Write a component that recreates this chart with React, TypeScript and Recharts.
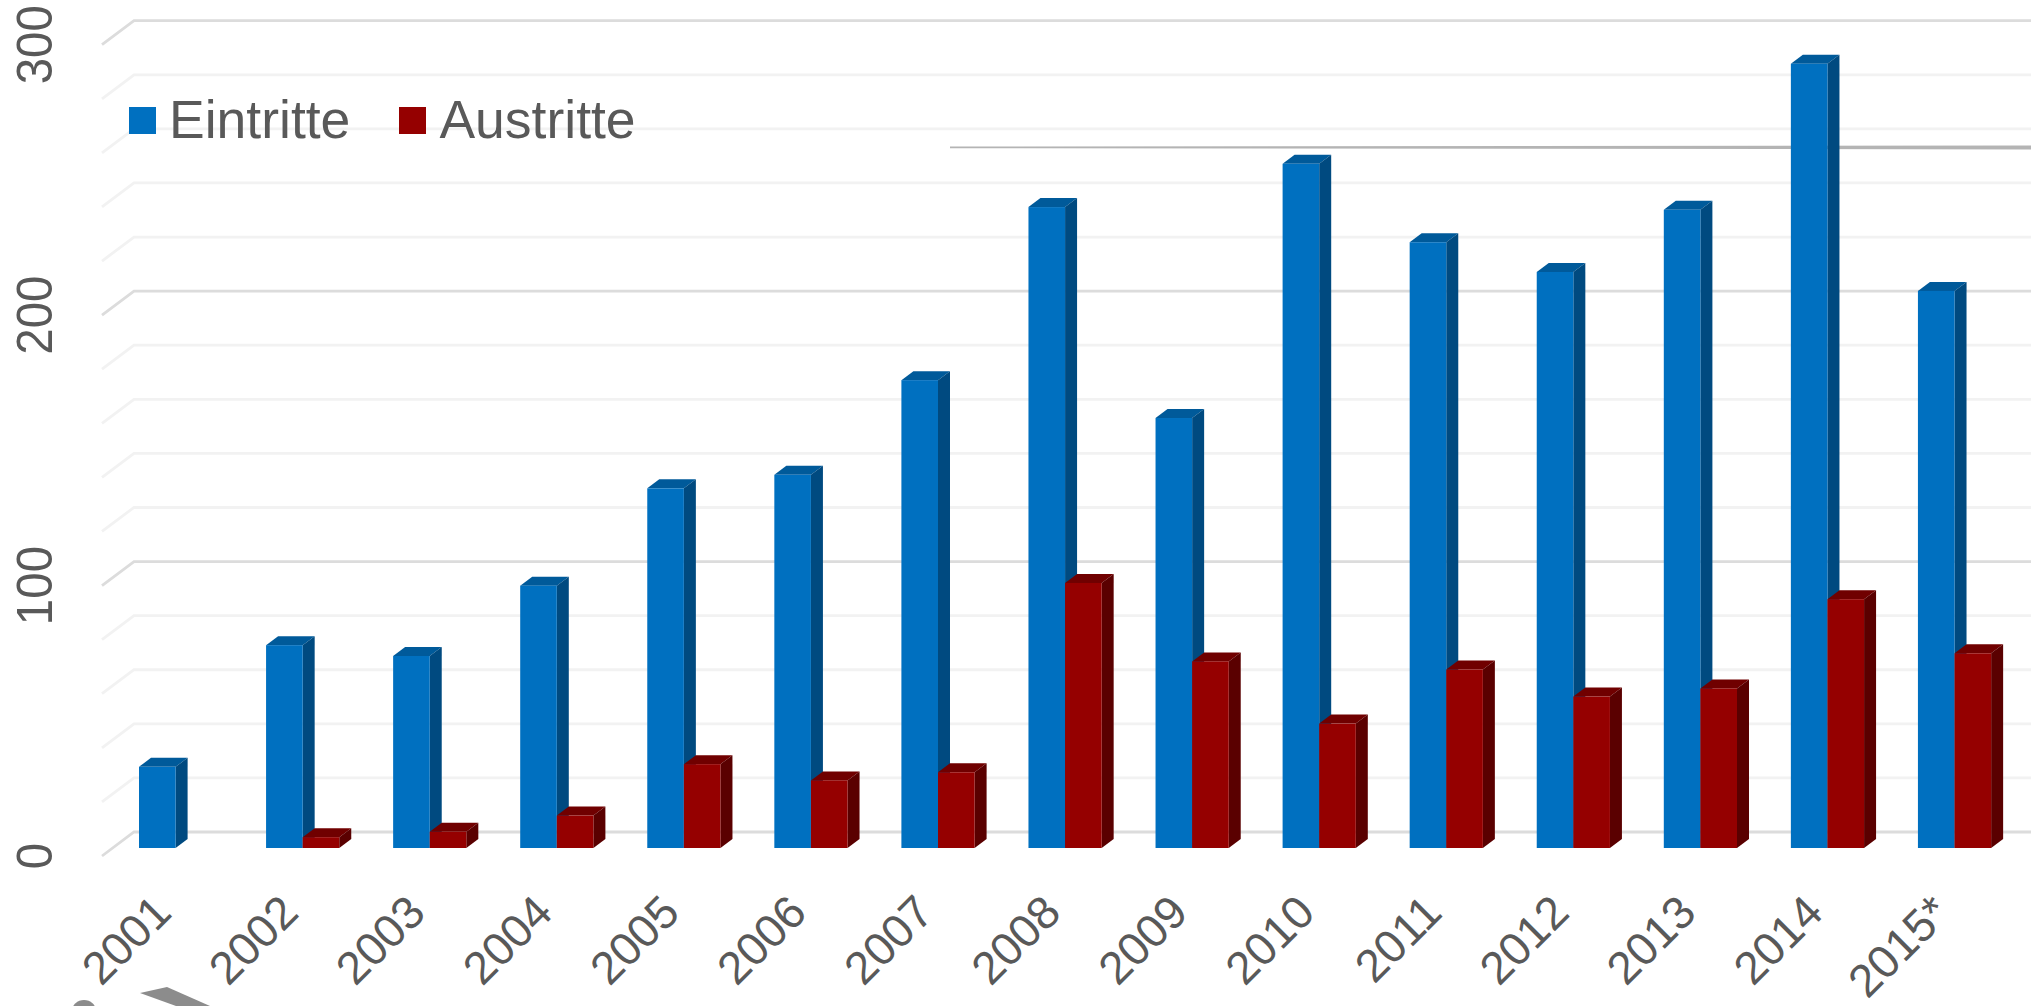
import { BarChart, Bar, XAxis, YAxis, CartesianGrid, Legend } from 'recharts';

const YEARS = ['2001', '2002', '2003', '2004', '2005', '2006', '2007', '2008', '2009', '2010', '2011', '2012', '2013', '2014', '2015*'];
const EINTRITTE = [30, 75, 71, 97, 133, 138, 173, 237, 159, 253, 224, 213, 236, 290, 206];
const AUSTRITTE = [null, 4, 6, 12, 31, 25, 28, 98, 69, 46, 66, 56, 59, 92, 72];
const Y_TICKS = [0, 20, 40, 60, 80, 100, 120, 140, 160, 180, 200, 220, 240, 260, 280, 300];
const Y_LABELS = [0, 100, 200, 300];

const data = YEARS.map((year, i) => ({ year, eintritte: EINTRITTE[i], austritte: AUSTRITTE[i] }));

const FONT = '"Liberation Sans", Arial, sans-serif';
const TEXT = '#595959';
const DX = 12; // depth of the 3d bars
const DY = 9;

const bar3d = (top: string, side: string) => (props: any) => {
  const { x, y, width, height, fill } = props;
  if (!height || height <= 0) return <g />;
  const r = x + width;
  const b = y + height;
  return (
    <g>
      <polygon points={`${x},${y} ${x + DX},${y - DY} ${r + DX},${y - DY} ${r},${y}`} fill={top} />
      <polygon points={`${r},${y} ${r + DX},${y - DY} ${r + DX},${b - DY} ${r},${b}`} fill={side} />
      <rect x={x} y={y} width={width} height={height} fill={fill} />
    </g>
  );
};

// gridlines run over the back wall and down the side wall
const wallLine = (props: any) => {
  const { y1, index } = props;
  const major = index % 5 === 0;
  const stroke = major ? '#dcdcdc' : '#f2f2f2';
  return (
    <polyline
      key={props.key ?? index}
      points={`102,${y1 + 8} 134,${y1 - 16} 2031,${y1 - 16}`}
      fill="none"
      stroke={stroke}
      strokeWidth={2.8}
    />
  );
};

const YTick = ({ y, payload }: any) => {
  if (!Y_LABELS.includes(payload.value)) return <g />;
  return (
    <text
      transform={`translate(52,${y + 8}) rotate(-90) scale(0.95,1)`}
      textAnchor="middle"
      fontFamily={FONT}
      fontSize={50}
      fill={TEXT}
    >
      {payload.value}
    </text>
  );
};

const XTick = ({ x, y, payload }: any) => (
  <text
    transform={`translate(${x - 2},${y + 59}) rotate(-45)`}
    textAnchor="end"
    fontFamily={FONT}
    fontSize={46}
    fill={TEXT}
  >
    {payload.value}
  </text>
);

const LegendBox = ({ payload }: any) => (
  <div style={{ display: 'flex', alignItems: 'center', fontFamily: FONT, fontSize: 53.5, color: TEXT, lineHeight: '60px' }}>
    {(payload || []).map((p: any) => (
      <span key={p.value} style={{ display: 'flex', alignItems: 'center', marginRight: 49 }}>
        <span style={{ width: 27, height: 27, background: p.color, marginRight: 13 }} />
        {p.value}
      </span>
    ))}
  </div>
);

export default function App() {
  return (
    <div style={{ position: 'absolute', left: 0, top: 0, width: 2031, height: 1006, overflow: 'hidden', background: '#fff' }}>
      <BarChart
        width={2031}
        height={1006}
        data={data}
        barGap={0}
        margin={{ top: 36.7, right: 0, bottom: 0, left: 0 }}
      >
        <CartesianGrid vertical={false} horizontal={wallLine} />
        <XAxis
          dataKey="year"
          height={158}
          axisLine={false}
          tickLine={false}
          interval={0}
          padding={{ left: 10, right: 13 }}
          tick={<XTick />}
        />
        <YAxis
          width={102}
          domain={[0, 300]}
          ticks={Y_TICKS}
          interval={0}
          axisLine={false}
          tickLine={false}
          tick={<YTick />}
        />
        <Legend
          layout="horizontal"
          verticalAlign="middle"
          align="center"
          itemSorter={null}
          content={<LegendBox />}
          wrapperStyle={{ left: 129, top: 90, width: 'auto' }}
        />
        <polygon points="950,146.6 2031,145.6 2031,149.4 950,148.2" fill="#b4b4b4" />
        <Bar dataKey="eintritte" name="Eintritte" fill="#0070C0" barSize={36.6} isAnimationActive={false} shape={bar3d('#005A9A', '#004A80')} />
        <Bar dataKey="austritte" name="Austritte" fill="#950000" barSize={36.6} isAnimationActive={false} shape={bar3d('#700000', '#5A0000')} />
        <polygon points="140,993 167,987 210,1006 176,1006" fill="#8c8c8c" />
        <ellipse cx={84} cy={1011} rx={12} ry={11} fill="#8c8c8c" />
      </BarChart>
    </div>
  );
}
